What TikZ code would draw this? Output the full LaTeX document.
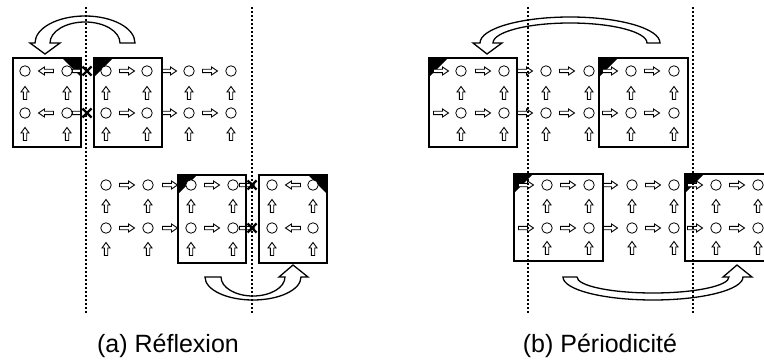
\documentclass[tikz,border=0pt]{standalone}
\usepackage{fontspec}
\setmainfont{Liberation Sans}
\begin{document}
\begin{tikzpicture}[x=1pt,y=-1pt,
  pt/.style={circle, draw, fill=white, line width=0.8pt, minimum size=10.5pt, inner sep=0pt},
  box/.style={draw, line width=2pt},
  corner/.style={fill=black},
  barrow/.style={draw, fill=white, line width=0.9pt, line join=miter},
  bigarrow/.style={draw, fill=white, line width=1.3pt, line join=miter},
  border/.style={line width=1.8pt, dash pattern=on 1.8pt off 2.2pt},
  xmark/.style={line width=2.2pt},
  label/.style={font=\fontsize{25}{30}\selectfont, inner sep=0pt},
  rarr/.pic={\path[barrow] (-7.5,-1.7) -- (1.5,-1.7) -- (1.5,-4) -- (7.5,0) -- (1.5,4) -- (1.5,1.7) -- (-7.5,1.7) -- cycle;},
  larr/.pic={\path[barrow] (7.5,-1.7) -- (-1.5,-1.7) -- (-1.5,-4) -- (-7.5,0) -- (-1.5,4) -- (-1.5,1.7) -- (7.5,1.7) -- cycle;},
  uarr/.pic={\path[barrow] (-1.7,6.5) -- (-1.7,-1) -- (-4,-1) -- (0,-6.5) -- (4,-1) -- (1.7,-1) -- (1.7,6.5) -- cycle;},
  cross/.pic={\draw[xmark] (-4.5,-4.5) -- (4.5,4.5) (-4.5,4.5) -- (4.5,-4.5);}
]
\useasboundingbox (0,0) rectangle (764,361);

% ---------- corner marks ----------
\fill[corner] (62,58) -- (81,58) -- (81,77) -- cycle;
\fill[corner] (94,58) -- (113,58) -- (94,77) -- cycle;
\fill[corner] (178,175) -- (197,175) -- (178,194) -- cycle;
\fill[corner] (308,175) -- (327,175) -- (327,194) -- cycle;
\fill[corner] (429,58) -- (448,58) -- (429,77) -- cycle;
\fill[corner] (599,58) -- (618,58) -- (599,77) -- cycle;
\fill[corner] (514,174) -- (533,174) -- (514,193) -- cycle;
\fill[corner] (685,174) -- (704,174) -- (685,193) -- cycle;

% ---------- small arrows ----------
% (a) top
\foreach \y in {71,113} {
  \pic at (46,\y) {larr};
  \foreach \x in {80,127,169,210} \pic at (\x,\y) {rarr};
}
\foreach \y in {93,134} \foreach \x in {25,67,106,147,189,231} \pic at (\x,\y) {uarr};
% (a) bottom
\foreach \y in {185,228} {
  \pic at (293,\y) {larr};
  \foreach \x in {127,170,212,247} \pic at (\x,\y) {rarr};
}
\foreach \y in {206,249} \foreach \x in {106,148,191,233,272,313} \pic at (\x,\y) {uarr};
% (b) top
\foreach \y in {71,113} \foreach \x in {441,483,525,567,610,652} \pic at (\x,\y) {rarr};
\foreach \y in {93,134} \foreach \x in {461,504,546,589,631,674} \pic at (\x,\y) {uarr};
% (b) bottom
\foreach \y in {185,228} \foreach \x in {526,568,610,653,695,737} \pic at (\x,\y) {rarr};
\foreach \y in {206,248} \foreach \x in {547,589,632,674,716,758} \pic at (\x,\y) {uarr};

% ---------- grid points ----------
\foreach \x [count=\i] in {25,67,106,147,189,231}
  \foreach \y [count=\j] in {71,113} \node[pt] (at-\i-\j) at (\x,\y) {};
\foreach \x [count=\i] in {106,148,191,233,272,313}
  \foreach \y [count=\j] in {185,228} \node[pt] (ab-\i-\j) at (\x,\y) {};
\foreach \x [count=\i] in {461,504,546,589,631,674}
  \foreach \y [count=\j] in {71,113} \node[pt] (bt-\i-\j) at (\x,\y) {};
\foreach \x [count=\i] in {547,589,632,674,716,758}
  \foreach \y [count=\j] in {185,228} \node[pt] (bb-\i-\j) at (\x,\y) {};

% ---------- boxes ----------
\draw[box] (13,58) rectangle (81,147);
\draw[box] (94,58) rectangle (162,147);
\draw[box] (178,175) rectangle (246,263);
\draw[box] (259,175) rectangle (327,263);
\draw[box] (429,58) rectangle (517,147);
\draw[box] (599,58) rectangle (688,147);
\draw[box] (514,174) rectangle (603,261);
\draw[box] (685,174) rectangle (780,261);

% ---------- big curved arrows ----------
\path[bigarrow] (135,43) arc[start angle=0, end angle=-180, x radius=50, y radius=27]
  -- (30,43) -- (45,54) -- (60,43) -- (50,43)
  arc[start angle=-180, end angle=0, x radius=35, y radius=21] -- cycle;
\path[bigarrow] (205,277) arc[start angle=180, end angle=0, x radius=48, y radius=23]
  -- (308,277) -- (293,265) -- (279,277) -- (285,277)
  arc[start angle=0, end angle=180, x radius=32, y radius=19] -- cycle;
\path[bigarrow] (660,43) arc[start angle=0, end angle=-180, x radius=90, y radius=26]
  -- (473,43) -- (487,54) -- (502,43) -- (493,43)
  arc[start angle=-180, end angle=0, x radius=77, y radius=20] -- cycle;
\path[bigarrow] (563,277) arc[start angle=180, end angle=0, x radius=90, y radius=23]
  -- (752,277) -- (737,265) -- (723,277) -- (729,277)
  arc[start angle=0, end angle=180, x radius=76, y radius=16] -- cycle;

% ---------- boundaries ----------
\foreach \x in {86,252,528,693} \draw[border] (\x,7) -- (\x,314);

% ---------- blocked links ----------
\foreach \y in {71,113} \pic at (87,\y) {cross};
\foreach \y in {185,228} \pic at (252,\y) {cross};

% ---------- captions ----------
\node[label] (capa) at (168,346) {(a) Réflexion};
\node[label] (capb) at (600,346) {(b) Périodicité};
\end{tikzpicture}
\end{document}
